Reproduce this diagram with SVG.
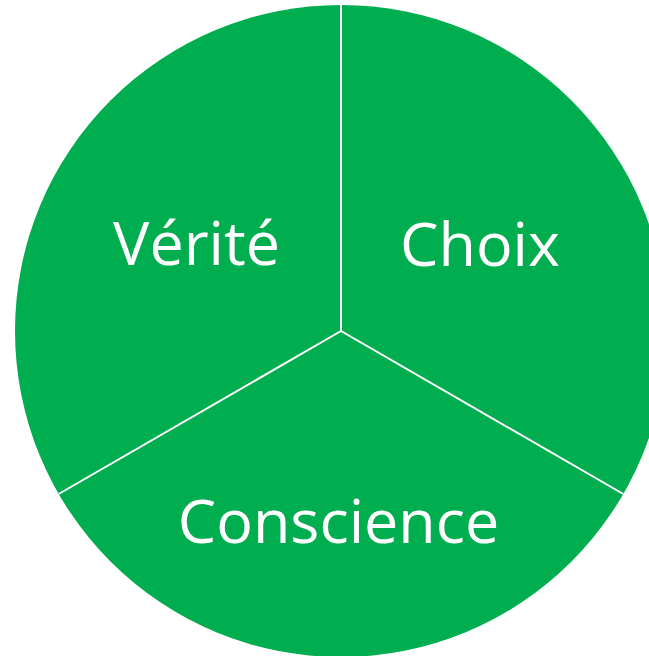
<svg xmlns="http://www.w3.org/2000/svg" width="649" height="656" viewBox="0 0 649 656">
<style>
.seg{fill:#00AE4F;}
.div{stroke:#ffffff;stroke-width:2;fill:none;}
.lbl{font-family:"Open Sans","Liberation Sans",sans-serif;font-size:61px;fill:#ffffff;text-anchor:middle;}
</style>
<rect width="649" height="656" fill="#ffffff"/>
<g id="circle"><circle class="seg" cx="341" cy="331" r="326"/></g>
<g id="connectors">
<line class="div" x1="341" y1="331" x2="341" y2="5"/>
<line class="div" x1="341" y1="331" x2="58.7" y2="494"/>
<line class="div" x1="341" y1="331" x2="623.3" y2="494"/>
</g>
<g id="verite"><text class="lbl" x="196.5" y="265">Vérité</text></g>
<g id="choix"><text class="lbl" x="480" y="266">Choix</text></g>
<g id="conscience"><text class="lbl" x="338.5" y="543">Conscience</text></g>
</svg>
